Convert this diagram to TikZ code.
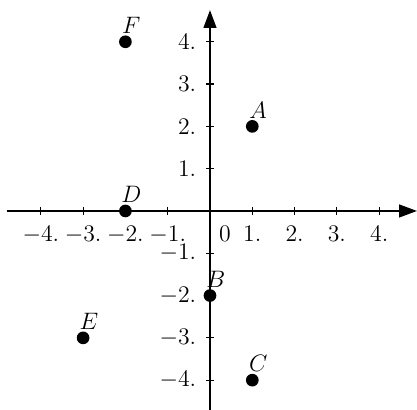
\RequirePackage{fix-cm}
\documentclass[tikz,border=0pt]{standalone}
\usepackage{fontspec}
\usetikzlibrary{arrows.meta}
\begin{document}
\begin{tikzpicture}[x=1cm,y=1cm,
  axis/.style={line width=1.2pt,-{Triangle[length=0.42cm,width=0.3cm]}},
  tickm/.style={line width=0.8pt},
  dot/.style={circle,fill=black,draw=none,inner sep=0pt,minimum size=0.3cm},
  lbl/.style={inner sep=0pt,font=\fontsize{16}{19}\selectfont}]
\useasboundingbox (-4.965,-4.705) rectangle (4.894,4.988);
\coordinate (xs) at (-4.81,0);
\coordinate (xe) at (4.894,0);
\coordinate (ys) at (0,-4.705);
\coordinate (ye) at (0,4.75);
\draw[axis] (xs) -- (xe);
\draw[axis] (ys) -- (ye);
\foreach \v in {-4,-3,-2,-1,1,2,3,4}{
  \draw[tickm] (\v,0.1) -- (\v,-0.1);
  \node[lbl,anchor=north] (xl\v) at (\v,-0.355) {$\v.$};
  \draw[tickm] (-0.1,\v) -- (0.1,\v);
  \node[lbl,anchor=east] (yl\v) at (-0.32,\v) {$\v.$};
}
\node[lbl,anchor=north] (zero) at (0.355,-0.355) {$0$};
\node[dot] (A) at (1,2) {};
\node[dot] (B) at (0,-2) {};
\node[dot] (C) at (1,-4) {};
\node[dot] (D) at (-2,0) {};
\node[dot] (E) at (-3,-3) {};
\node[dot] (F) at (-2,4) {};
\foreach \p in {A,B,C,D,E,F}{
  \node[lbl] (l\p) at ([shift={(0.14,0.39)}]\p.center) {$\p$};
}
\end{tikzpicture}
\end{document}
